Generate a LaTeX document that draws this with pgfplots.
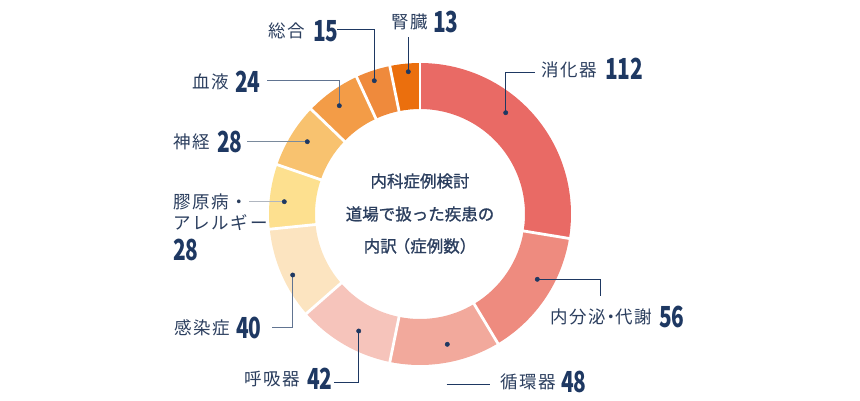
\documentclass[border=0pt]{standalone}
\usepackage{pgfplots}
\pgfplotsset{compat=1.18}
\usepackage{pgfplotstable}
\usepackage{fontspec}
\setmainfont{Noto Sans CJK JP}
\newfontfamily\lab{Noto Sans CJK JP}[LetterSpace=10]
\newfontfamily\cen{Noto Sans CJK JP}[FakeBold=1.2]
\newfontfamily\numf{Noto Sans CJK JP}

\definecolor{c0}{HTML}{E96A65}
\definecolor{c1}{HTML}{EE8B7F}
\definecolor{c2}{HTML}{F2A99C}
\definecolor{c3}{HTML}{F6C4BB}
\definecolor{c4}{HTML}{FCE4C0}
\definecolor{c5}{HTML}{FDE08F}
\definecolor{c6}{HTML}{F8C26F}
\definecolor{c7}{HTML}{F39C47}
\definecolor{c8}{HTML}{EF8A3C}
\definecolor{c9}{HTML}{EB6F0D}
\definecolor{navy}{HTML}{1E3862}
\definecolor{txt}{HTML}{2B3E5E}
\definecolor{lg1}{HTML}{7A8A9C}
\definecolor{lg2}{HTML}{B0B6C0}

% slice values, clockwise from 12 o'clock
\pgfplotstableread{
value
112
56
48
42
40
28
28
24
15
13
}\slices

% dot positions (pixel coordinates)
\pgfplotstableread{
x y
505.7 112.7
537.3 279.3
447.3 344.3
358.7 331.0
292.7 275.0
284.3 201.7
307.3 141.7
339.3 105.7
374.3 80.7
408.3 71.7
}\dotdata

\newcommand{\num}[1]{{\color{navy}\numf\bfseries\fontsize{29}{29}\selectfont\scalebox{0.72}[1]{#1}}}
\newcommand{\lbl}[1]{{\color{txt}\lab\fontsize{17.5}{20}\selectfont #1}}

\begin{document}
\begin{tikzpicture}
\gdef\total{0}
\foreach \i in {0,...,9}{%
  \pgfplotstablegetelem{\i}{value}\of\slices
  \pgfmathsetmacro\tnew{\total+\pgfplotsretval}%
  \global\let\total\tnew
}
\gdef\cum{0}
\foreach \i in {0,...,9}{%
  \pgfplotstablegetelem{\i}{value}\of\slices
  \pgfmathsetmacro\sa{90-360*(\cum/\total)}%
  \pgfmathsetmacro\newcum{\cum+\pgfplotsretval}%
  \pgfmathsetmacro\ea{90-360*(\newcum/\total)}%
  \expandafter\xdef\csname sa\i\endcsname{\sa}%
  \expandafter\xdef\csname ea\i\endcsname{\ea}%
  \global\let\cum\newcum
}
\begin{axis}[
  width=860pt, height=400pt, scale only axis,
  xmin=0, xmax=860, ymin=0, ymax=400, y dir=reverse,
  hide axis, clip=false,
]
\path (axis cs:0,0) rectangle (axis cs:860,400);
\pgfplotsinvokeforeach{0,...,9}{%
  \edef\tmp{\noexpand\fill[c#1] (axis cs:420,214) ++(\csname sa#1\endcsname:151pt) arc[start angle=\csname sa#1\endcsname, end angle=\csname ea#1\endcsname, radius=151pt] -- ++(\csname ea#1\endcsname:-46pt) arc[start angle=\csname ea#1\endcsname, end angle=\csname sa#1\endcsname, radius=105pt] -- cycle;}%
  \tmp
}
\pgfplotsinvokeforeach{0,...,9}{%
  \edef\tmp{\noexpand\draw[white, line width=2.8pt] (axis cs:420,214) ++(\csname sa#1\endcsname:100pt) -- ++(\csname sa#1\endcsname:56pt);}%
  \tmp
}
% leader lines
\addplot[navy, line width=0.8pt] coordinates {(505.7,112.7) (505.7,72) (535,72)};
\addplot[navy, line width=0.8pt] coordinates {(408.3,71.7) (408.3,37)};
\addplot[navy, line width=0.8pt] coordinates {(374.3,80.7) (374.3,29.5) (337.3,29.5)};
\addplot[navy!70!white, line width=0.8pt] coordinates {(339.3,105.7) (339.3,80.7) (267.3,80.7)};
\addplot[lg1, line width=1pt] coordinates {(307.3,141.7) (246.7,141.7)};
\addplot[lg2, line width=0.8pt] coordinates {(284.3,201.7) (249,201.7)};
\addplot[navy!70!white, line width=0.8pt] coordinates {(292.7,275) (292.7,327.3) (271.7,327.3)};
\addplot[navy, line width=0.8pt] coordinates {(358.7,331) (358.7,382.7) (334.3,382.7)};
\addplot[navy, line width=0.8pt] coordinates {(446.7,384.3) (490,384.3)};
\addplot[navy, line width=0.8pt] coordinates {(537.3,279.3) (600.3,279.3) (600.3,296)};
% dots
\addplot[only marks, mark=*, mark size=2.2pt, color=navy] table[x=x, y=y] {\dotdata};
% labels
\node[anchor=west, inner sep=0] at (axis cs:541,70) {\lbl{消化器}};
\node[anchor=west, inner sep=0] at (axis cs:605,68.5) {\num{112}};
\node[anchor=west, inner sep=0] at (axis cs:391,22) {\lbl{腎臓}};
\node[anchor=west, inner sep=0] at (axis cs:433,22) {\num{13}};
\node[anchor=west, inner sep=0] at (axis cs:268,31) {\lbl{総合}};
\node[anchor=west, inner sep=0] at (axis cs:313,31) {\num{15}};
\node[anchor=west, inner sep=0] at (axis cs:192,82) {\lbl{血液}};
\node[anchor=west, inner sep=0] at (axis cs:235,82) {\num{24}};
\node[anchor=west, inner sep=0] at (axis cs:173,142) {\lbl{神経}};
\node[anchor=west, inner sep=0] at (axis cs:217,142) {\num{28}};
\node[anchor=west, inner sep=0] at (axis cs:173,202) {\lbl{膠原病・}};
\node[anchor=west, inner sep=0] at (axis cs:173,223) {\lbl{アレルギー}};
\node[anchor=west, inner sep=0] at (axis cs:173,250) {\num{28}};
\node[anchor=west, inner sep=0] at (axis cs:174,328) {\lbl{感染症}};
\node[anchor=west, inner sep=0] at (axis cs:236,328) {\num{40}};
\node[anchor=west, inner sep=0] at (axis cs:244,379) {\lbl{呼吸器}};
\node[anchor=west, inner sep=0] at (axis cs:307,379) {\num{42}};
\node[anchor=west, inner sep=0] at (axis cs:500,382) {\lbl{循環器}};
\node[anchor=west, inner sep=0] at (axis cs:561,382) {\num{48}};
\node[anchor=west, inner sep=0] at (axis cs:550,317) {\lbl{内分泌\hspace{-4pt}・\hspace{-4pt}代謝}};
\node[anchor=west, inner sep=0] at (axis cs:659,317) {\num{56}};
% centre text
\node[inner sep=0, text=txt, font=\cen\fontsize{16.5}{16.5}\selectfont] at (axis cs:420,181) {内科症例検討};
\node[inner sep=0, text=txt, font=\cen\fontsize{16.5}{16.5}\selectfont] at (axis cs:420,214) {道場で扱った疾患の};
\node[inner sep=0, text=txt, font=\cen\fontsize{16.5}{16.5}\selectfont] at (axis cs:420,246) {内訳\hspace{-3pt}（症例数）\hspace{-3pt}};
\end{axis}
\end{tikzpicture}
\end{document}
